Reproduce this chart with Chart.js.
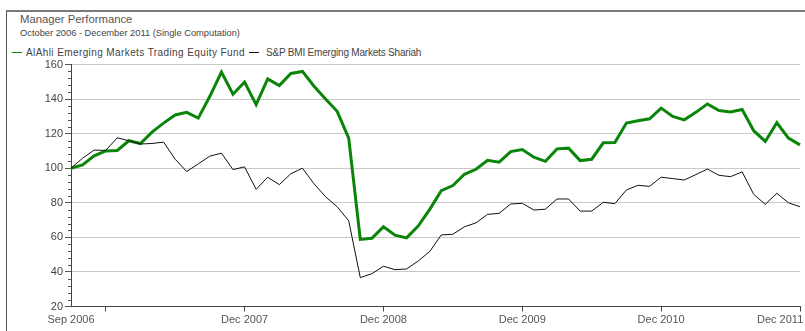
<!DOCTYPE html>
<html>
<head>
<meta charset="utf-8">
<script src="https://cdn.jsdelivr.net/npm/chart.js@4/dist/chart.umd.min.js"></script>
<style>
  html, body { margin: 0; padding: 0; background: #fff; }
  #wrap { position: relative; width: 805px; height: 331px; overflow: hidden; font-family: "Liberation Sans", Arial, sans-serif; }
  #frame { position: absolute; left: 6px; top: 10px; right: -2px; bottom: -2px; border-top: 2px solid #7a7a7a; border-left: 1.5px solid #555; }
  .txt { position: absolute; white-space: nowrap; color: #555; line-height: 1; }
  #title { left: 20px; top: 14px; font-size: 11.3px; }
  #subtitle { left: 20px; top: 29px; font-size: 9.3px; color: #444; }
  .legend-text { top: 48px; font-size: 10px; color: #444; }
  .swatch { position: absolute; top: 52px; width: 10px; height: 0; }
</style>
</head>
<body>
<div id="wrap">
  <div id="frame"></div>
  <div class="txt" id="title">Manager Performance</div>
  <div class="txt" id="subtitle">October 2006 - December 2011 (Single Computation)</div>
  <span class="swatch" style="left:12px; border-top:1.5px solid #0a850a"></span>
  <div class="txt legend-text" style="left:26px; letter-spacing:0.4px">AlAhli Emerging Markets Trading Equity Fund</div>
  <span class="swatch" style="left:249px; border-top:1.5px solid #111"></span>
  <div class="txt legend-text" style="left:266px; letter-spacing:-0.2px">S&amp;P BMI Emerging Markets Shariah</div>
  <canvas id="chart" width="805" height="331" style="position:absolute;left:0;top:0"></canvas>
</div>
<script>
// Monthly observations, Sep 2006 - Dec 2011
const months = [
  'Sep 2006','Oct 2006','Nov 2006','Dec 2006',
  'Jan 2007','Feb 2007','Mar 2007','Apr 2007','May 2007','Jun 2007','Jul 2007','Aug 2007','Sep 2007','Oct 2007','Nov 2007','Dec 2007',
  'Jan 2008','Feb 2008','Mar 2008','Apr 2008','May 2008','Jun 2008','Jul 2008','Aug 2008','Sep 2008','Oct 2008','Nov 2008','Dec 2008',
  'Jan 2009','Feb 2009','Mar 2009','Apr 2009','May 2009','Jun 2009','Jul 2009','Aug 2009','Sep 2009','Oct 2009','Nov 2009','Dec 2009',
  'Jan 2010','Feb 2010','Mar 2010','Apr 2010','May 2010','Jun 2010','Jul 2010','Aug 2010','Sep 2010','Oct 2010','Nov 2010','Dec 2010',
  'Jan 2011','Feb 2011','Mar 2011','Apr 2011','May 2011','Jun 2011','Jul 2011','Aug 2011','Sep 2011','Oct 2011','Nov 2011','Dec 2011'
];

// AlAhli Emerging Markets Trading Equity Fund (growth of 100)
const fundValues = [
  100, 101.9, 107.2, 110,
  110.3, 115.9, 114.3, 120.9, 126.1, 130.8, 132.3, 129, 141.6, 155.6, 142.8, 149.9,
  136.8, 151.7, 147.8, 154.8, 156, 147.4, 140.1, 132.9, 117.4, 58.8, 59.5, 66.1,
  61.3, 59.7, 66.5, 76.2, 87, 90, 96.5, 99.4, 104.6, 103.5, 109.6, 110.8,
  106.4, 104, 111.2, 111.6, 104.4, 105.2, 114.7, 114.9, 126.1, 127.5, 128.6, 134.8,
  130, 128, 132.3, 137.2, 133.4, 132.5, 134, 121.7, 115.5, 126.3, 117.4, 113.5
];

// S&P BMI Emerging Markets Shariah (growth of 100)
const indexValues = [
  100, 105.8, 110.5, 110.3,
  117.6, 115.9, 114, 114.3, 115.1, 105.2, 98.1, 102.5, 107, 108.7, 99.2, 100.8,
  87.8, 94.8, 90.5, 96.8, 100, 91, 83.5, 77.7, 69.6, 36.7, 39, 43.3,
  41.3, 41.7, 46.3, 51.8, 61.4, 61.8, 66.1, 68.4, 73.3, 73.9, 79.3, 79.7,
  75.8, 76.3, 82.2, 82.2, 75.2, 75.2, 80.3, 79.5, 87.4, 90.1, 89.5, 94.8,
  94, 93.2, 96.3, 99.5, 95.9, 95.1, 97.9, 84.9, 79.1, 85.5, 80, 77.7
];

// Labelled months on the time axis, and months carrying a tick mark
const xTickLabels = ['Sep 2006','Dec 2007','Dec 2008','Dec 2009','Dec 2010','Dec 2011'];
const xTickMarks = ['Dec 2006','Dec 2007','Dec 2008','Dec 2009','Dec 2010','Dec 2011'];

// Value axis
const yMin = 20, yMax = 160, yStep = 20, yMinorStep = 4;

const minorTicks = {
  id: 'minorTicks',
  afterDraw(chart) {
    const y = chart.scales.y;
    const ctx = chart.ctx;
    const left = chart.chartArea.left;
    ctx.save();
    ctx.strokeStyle = '#555';
    ctx.lineWidth = 1;
    for (let v = yMin; v <= yMax; v += yMinorStep) {
      if (v % yStep === 0) continue;
      const py = Math.round(y.getPixelForValue(v)) + 0.5;
      ctx.beginPath();
      ctx.moveTo(left - 3, py);
      ctx.lineTo(left, py);
      ctx.stroke();
    }
    ctx.restore();
  }
};

new Chart(document.getElementById('chart'), {
  type: 'line',
  data: {
    labels: months,
    datasets: [
      { label: 'S&P BMI Emerging Markets Shariah', data: indexValues, borderColor: '#111', borderWidth: 1, pointRadius: 0, tension: 0 },
      { label: 'AlAhli Emerging Markets Trading Equity Fund', data: fundValues, borderColor: '#0a850a', borderWidth: 3, pointRadius: 0, tension: 0 }
    ]
  },
  options: {
    responsive: false,
    animation: false,
    events: [],
    layout: { padding: { top: 64.5, right: 5, left: 0, bottom: 0 }, autoPadding: false },
    plugins: { legend: { display: false }, title: { display: false }, tooltip: { enabled: false } },
    scales: {
      x: {
        type: 'category',
        offset: false,
        afterFit(scale) {
          scale.height = 24.5;
          scale.paddingLeft = 0;
          scale.paddingRight = 0;
        },
        border: { display: true, color: '#444', width: 1 },
        grid: {
          drawOnChartArea: false,
          drawTicks: true,
          tickLength: 5,
          color: 'rgba(0,0,0,0)',
          tickColor: (c) => xTickMarks.includes(months[c.index]) ? '#444' : 'rgba(0,0,0,0)'
        },
        ticks: {
          autoSkip: false,
          maxRotation: 0,
          minRotation: 0,
          padding: 2,
          color: '#555',
          font: { family: '"Liberation Sans", Arial, sans-serif', size: 11 },
          callback(value, index) {
            const m = months[index];
            if (!xTickLabels.includes(m)) return '';
            // keep the last label inside the canvas edge
            return index === months.length - 1 ? m + '             ' : m;
          }
        }
      },
      y: {
        min: yMin,
        max: yMax,
        afterFit(scale) {
          scale.width = 71;
          scale.paddingTop = 0;
          scale.paddingBottom = 0;
        },
        border: { display: true, color: '#444', width: 1 },
        grid: {
          color: (c) => c.tick && c.tick.value === yMin ? 'rgba(0,0,0,0)' : '#c9c9c9',
          tickColor: '#555',
          tickLength: 6,
          lineWidth: 1
        },
        ticks: {
          stepSize: yStep,
          padding: 2,
          color: '#444',
          font: { family: '"Liberation Sans", Arial, sans-serif', size: 11 }
        }
      }
    }
  },
  plugins: [minorTicks]
});
</script>
</body>
</html>
